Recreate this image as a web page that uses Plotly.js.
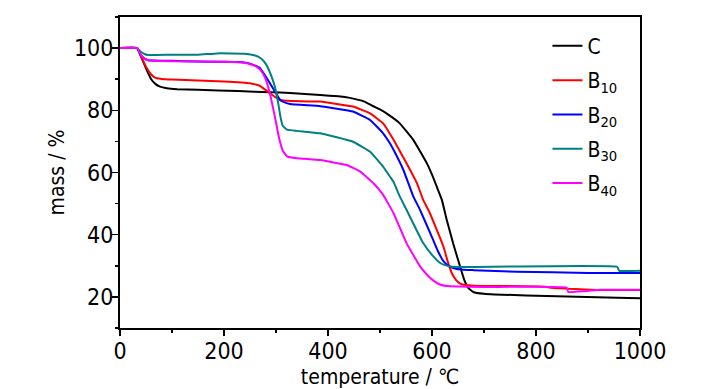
<!DOCTYPE html>
<html>
<head>
<meta charset="utf-8">
<script src="https://cdn.plot.ly/plotly-3.0.1.min.js"></script>
<style>html,body{margin:0;padding:0;background:#fff;}#chart{width:727px;height:389px;}</style>
</head>
<body>
<div id="chart"></div>
<script>
// Series names
const names = ['C', 'B<sub>10</sub>', 'B<sub>20</sub>', 'B<sub>30</sub>', 'B<sub>40</sub>'];
const colors = ['#000000', '#ff0000', '#0000ff', '#008080', '#ff00ff'];

// C (black)
const tC = [0, 33, 40, 50, 60, 68, 77, 90, 110, 150, 227, 290, 327, 385, 420, 442, 470, 487, 500, 516, 538, 564, 590, 602, 609, 619, 628, 641, 654, 662, 670, 680, 700, 720, 840, 956, 1000];
const mC = [100, 100, 97.5, 93.5, 90.0, 88.5, 87.6, 87.1, 86.8, 86.6, 86.2, 85.8, 85.6, 84.9, 84.5, 84.0, 82.8, 81.3, 80.3, 78.6, 75.8, 70.5, 63.0, 58.5, 55.5, 51.2, 45.0, 37.0, 29.8, 25.5, 22.8, 21.5, 21.0, 20.8, 20.2, 19.7, 19.6];

// B10 (red)
const tB10 = [0, 33, 40, 50, 60, 67, 80, 100, 150, 200, 250, 270, 288, 308, 330, 385, 448, 481, 506, 526, 551, 571, 583, 596, 622, 630, 638, 646, 654, 665, 680, 817, 830, 923, 1000];
const mB10 = [100, 100, 97.5, 94.0, 91.5, 90.5, 90.1, 89.9, 89.6, 89.3, 88.7, 87.8, 85.5, 83.3, 83.0, 82.8, 81.2, 79.0, 75.8, 70.5, 63.0, 56.6, 51.2, 46.9, 36.2, 31.5, 27.7, 25.5, 24.3, 23.8, 23.6, 23.3, 22.9, 22.2, 22.2];

// B20 (blue)
const tB20 = [0, 33, 40, 47, 54, 100, 150, 200, 227, 250, 269, 288, 308, 313, 327, 385, 448, 481, 506, 519, 526, 545, 564, 577, 602, 612, 622, 632, 641, 655, 680, 763, 900, 1000];
const mB20 = [100, 100, 97.8, 96.6, 96.1, 95.9, 95.7, 95.6, 95.5, 95.0, 93.6, 88.8, 83.3, 82.8, 82.0, 81.3, 79.6, 76.9, 72.6, 69.4, 67.3, 60.8, 52.3, 48.0, 38.4, 34.5, 31.5, 30.0, 29.3, 28.8, 28.6, 28.1, 27.7, 27.7];

// B30 (teal)
const tB30 = [0, 33, 40, 47, 54, 100, 150, 187, 240, 260, 270, 280, 290, 298, 304, 309, 313, 321, 385, 448, 481, 506, 519, 526, 538, 551, 583, 600, 615, 625, 635, 660, 956, 960, 1000];
const mB30 = [100, 100, 98.8, 98.1, 97.8, 97.9, 97.9, 98.3, 98.2, 97.6, 96.8, 95.0, 91.5, 87.5, 82.5, 77.5, 75.0, 73.8, 72.6, 69.9, 66.7, 61.9, 58.7, 57.0, 52.3, 48.0, 37.3, 33.5, 31.0, 30.2, 29.8, 29.6, 29.7, 28.4, 28.4];

// B40 (magenta)
const tB40 = [0, 33, 40, 47, 54, 100, 200, 240, 260, 270, 279, 288, 298, 306, 313, 321, 340, 385, 436, 462, 487, 506, 526, 551, 577, 590, 602, 615, 628, 700, 859, 862, 923, 1000];
const mB40 = [100, 100, 97.8, 96.6, 96.1, 95.8, 95.6, 95.3, 94.3, 93.0, 90.5, 85.6, 77.8, 71.0, 67.0, 65.2, 64.6, 64.0, 62.4, 60.3, 56.6, 52.8, 46.9, 37.3, 29.8, 27.2, 25.3, 24.0, 23.5, 23.2, 23.0, 21.6, 22.3, 22.3];

const xs = [tC, tB10, tB20, tB30, tB40];
const ys = [mC, mB10, mB20, mB30, mB40];

const xTickVals = [0, 200, 400, 600, 800, 1000];
const yTickVals = [20, 40, 60, 80, 100];

const FONT = '"Liberation Sans Narrow", "Arial Narrow", "DejaVu Sans Condensed", Arial, sans-serif';

const traces = names.map((n, i) => ({
  x: xs[i], y: ys[i], name: n, type: 'scatter', mode: 'lines',
  line: {color: colors[i], width: 2, shape: 'spline', smoothing: 0.3},
  legendgroup: 'g' + i
}));

const layout = {
  width: 727, height: 389,
  margin: {l: 120, r: 87, t: 17, b: 61},
  paper_bgcolor: '#fff', plot_bgcolor: '#fff',
  font: {family: FONT, color: '#000', size: 22},
  showlegend: true,
  legend: {
    x: 0.822, y: 0.972, xanchor: 'left', yanchor: 'top',
    bgcolor: 'rgba(0,0,0,0)', borderwidth: 0,
    font: {family: FONT, size: 21, color: '#000'},
    tracegroupgap: 4, itemwidth: 30
  },
  xaxis: {
    range: [0, 1000], tickvals: xTickVals, ticktext: xTickVals.map(String),
    showgrid: false, zeroline: false, showline: true, mirror: true,
    linecolor: '#000', linewidth: 2, ticks: 'outside', ticklen: 6, tickwidth: 1.5, tickcolor: '#000',
    tickfont: {family: FONT, size: 23}, ticklabelstandoff: -5,
    minor: {dtick: 100, tick0: 0, ticks: 'outside', ticklen: 3, tickwidth: 1.5, tickcolor: '#000', showgrid: false},
    title: {text: 'temperature / ℃', font: {family: FONT, size: 21}, standoff: 8}
  },
  yaxis: {
    range: [10, 110], tickvals: yTickVals, ticktext: yTickVals.map(String),
    showgrid: false, zeroline: false, showline: true, mirror: true,
    linecolor: '#000', linewidth: 2, ticks: 'outside', ticklen: 6, tickwidth: 1.5, tickcolor: '#000',
    tickfont: {family: FONT, size: 23}, ticklabelstandoff: -6,
    minor: {dtick: 10, tick0: 0, ticks: 'outside', ticklen: 3, tickwidth: 1.5, tickcolor: '#000', showgrid: false},
    title: {text: 'mass / %', font: {family: FONT, size: 21}, standoff: 4}
  }
};

Plotly.newPlot('chart', traces, layout, {staticPlot: true, displayModeBar: false});
</script>
</body>
</html>
